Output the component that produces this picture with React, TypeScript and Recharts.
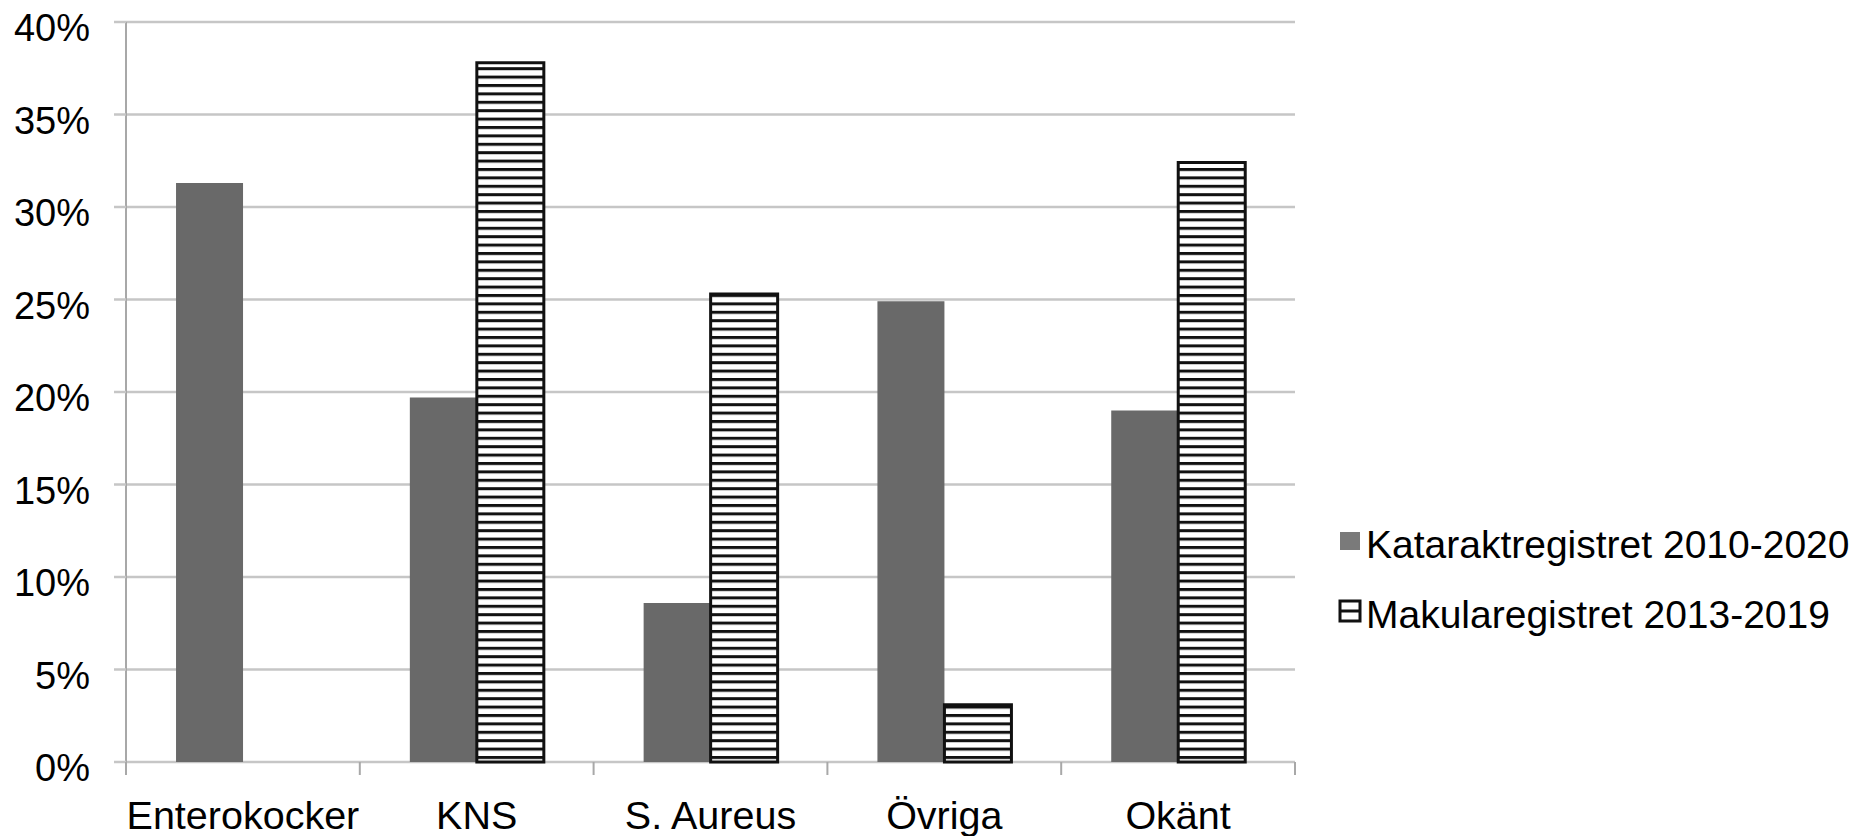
import React from "react";
import {
  BarChart,
  Bar,
  XAxis,
  YAxis,
  CartesianGrid,
  Legend,
} from "recharts";

const categories = ["Enterokocker", "KNS", "S. Aureus", "Övriga", "Okänt"];
const katarakt = [31.3, 19.7, 8.6, 24.9, 19.0];
const makula = [0, 37.8, 25.3, 3.1, 32.4];
const yTicks = [0, 5, 10, 15, 20, 25, 30, 35, 40];
const seriesNames = ["Kataraktregistret 2010-2020", "Makularegistret 2013-2019"];

const data = categories.map((name, i) => ({
  name,
  katarakt: katarakt[i],
  makula: makula[i],
}));

const W = 1862;
const H = 836;
const MARGIN = { top: 22, right: 567, bottom: 0, left: 0 };
const Y_AXIS_W = 126;
const X_AXIS_H = 74;
const AXIS_Y = H - MARGIN.bottom - X_AXIS_H;
const BAND = (W - MARGIN.right - MARGIN.left - Y_AXIS_W) / categories.length;

const FONT = "'Liberation Sans', Arial, Helvetica, sans-serif";
const AXIS_GRAY = "#a8a8a8";
const GRID_GRAY = "#c6c6c6";
const DARK = "#696969";

const XTick = (props: any) => {
  const { x, payload, index } = props;
  const left = x - BAND / 2;
  const last = index === categories.length - 1;
  return (
    <g>
      <line x1={left} x2={left} y1={AXIS_Y} y2={AXIS_Y + 13} stroke={AXIS_GRAY} strokeWidth={2} />
      {last && (
        <line x1={x + BAND / 2} x2={x + BAND / 2} y1={AXIS_Y} y2={AXIS_Y + 13} stroke={AXIS_GRAY} strokeWidth={2} />
      )}
      <text x={x} y={AXIS_Y + 67} textAnchor="middle" fontSize={39.5} fontFamily={FONT} fill="#000">
        {payload.value}
      </text>
    </g>
  );
};

const YTick = (props: any) => {
  const { x, y, payload } = props;
  return (
    <text x={x} y={y + 19} textAnchor="end" fontSize={38} fontFamily={FONT} fill="#000">
      {payload.value}%
    </text>
  );
};

const LegendBox = () => (
  <svg width={525} height={125}>
    <rect x={5} y={12} width={20} height={18} fill="#7a7a7a" />
    <text x={31} y={38} fontSize={39} fontFamily={FONT} fill="#000">
      {seriesNames[0]}
    </text>
    <rect x={5} y={81} width={20} height={20} fill="#fff" stroke="#111" strokeWidth={3} />
    <line x1={5} x2={25} y1={91} y2={91} stroke="#111" strokeWidth={3} />
    <text x={31} y={108} fontSize={39} fontFamily={FONT} fill="#000">
      {seriesNames[1]}
    </text>
  </svg>
);

export default function App() {
  return (
    <div style={{ position: "absolute", left: 0, top: 0, background: "#fff" }}>
      <BarChart
        width={W}
        height={H}
        data={data}
        margin={MARGIN}
        barCategoryGap="21.4%"
        barGap={0}
      >
        <defs>
          <pattern id="stripes" patternUnits="userSpaceOnUse" width={10} height={8.4}>
            <rect x={0} y={0} width={10} height={8.4} fill="#fff" />
            <rect x={0} y={0} width={10} height={3} fill="#111" />
          </pattern>
        </defs>
        <CartesianGrid vertical={false} stroke={GRID_GRAY} strokeWidth={2.5} />
        <XAxis
          dataKey="name"
          height={X_AXIS_H}
          axisLine={false}
          tickLine={false}
          interval={0}
          tick={<XTick />}
        />
        <YAxis
          width={Y_AXIS_W}
          domain={[0, 40]}
          ticks={yTicks}
          interval={0}
          axisLine={{ stroke: AXIS_GRAY, strokeWidth: 2 }}
          tickLine={{ stroke: GRID_GRAY, strokeWidth: 2.5 }}
          tickSize={12}
          tickMargin={24}
          tick={<YTick />}
        />
        <Legend
          layout="vertical"
          align="center"
          verticalAlign="middle"
          wrapperStyle={{ left: 1335, top: 520, width: 525 }}
          content={() => <LegendBox />}
        />
        <Bar
          dataKey="katarakt"
          name={seriesNames[0]}
          fill={DARK}
          isAnimationActive={false}
        />
        <Bar
          dataKey="makula"
          name={seriesNames[1]}
          fill="url(#stripes)"
          stroke="#111"
          strokeWidth={3}
          isAnimationActive={false}
        />
      </BarChart>
    </div>
  );
}
